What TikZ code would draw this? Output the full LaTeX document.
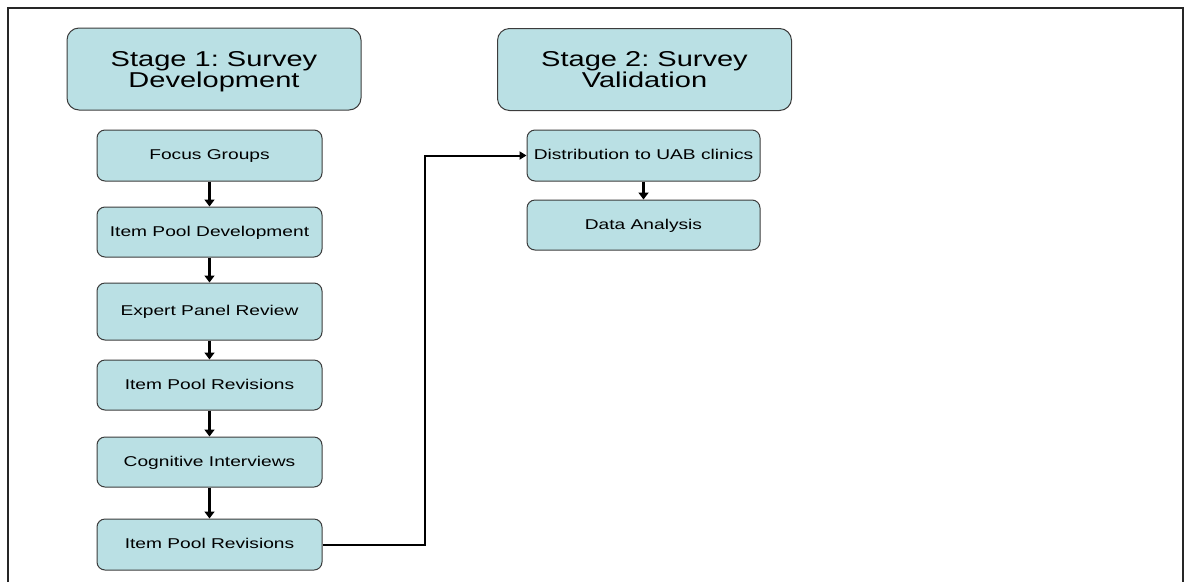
\documentclass[tikz,border=0pt]{standalone}
\usepackage{fontspec}
\setmainfont{Liberation Sans}[FakeStretch=1.35]
\usepackage{tikz}
\usetikzlibrary{arrows.meta}
\usetikzlibrary{positioning}

\definecolor{boxfill}{RGB}{186,224,228}
\definecolor{boxline}{RGB}{60,60,60}

\begin{document}
\frenchspacing
\begin{tikzpicture}[x=1pt, y=-1pt,
	stage_node/.style={rectangle, rounded corners=12pt, fill=boxfill, draw=boxline, line width=1pt, minimum width=294pt, minimum height=82pt, inner sep=0pt, align=center, text depth=0pt, font=\fontsize{21.5}{21}\selectfont},
	main_node/.style={rectangle, rounded corners=8pt, fill=boxfill, draw=boxline, line width=1pt, minimum width=225pt, minimum height=51pt, inner sep=0pt, text height=10pt, text depth=1.5pt, font=\fontsize{14.2}{16}\selectfont},
	flow/.style={line width=2.4pt, -{Triangle[length=7pt,width=10pt]}}]

				\useasboundingbox (0,0) rectangle (1185,582);
				\draw[black!85, line width=1.6pt] (8,582) |- (1183,8) -- (1183,582);

				\node[stage_node] (s1) at (214, 69) {Stage 1: Survey\\Development};
				\node[stage_node] (s2) at (644.5, 69.5) {Stage 2: Survey\\Validation};

				\node[main_node] (1) at (209.5, 155.5) {Focus Groups};
				\node[main_node, minimum height=50pt] (2) at (209.5, 232) {Item Pool Development};
				\node[main_node, minimum height=57pt] (3) at (209.5, 311.5) {Expert Panel Review};
				\node[main_node, minimum height=50pt] (4) at (209.5, 385) {Item Pool Revisions};
				\node[main_node, minimum height=50pt] (5) at (209.5, 462) {Cognitive Interviews};
				\node[main_node] (6) at (209.5, 544.5) {Item Pool Revisions};

				\node[main_node, minimum width=233pt] (7) at (643.5, 155.5) {Distribution to UAB clinics};
				\node[main_node, minimum width=233pt, minimum height=50pt] (8) at (643.5, 225) {Data Analysis};

				\path[every edge/.style={draw, flow}]
				(1) edge (2)
				(2) edge (3)
				(3) edge (4)
				(4) edge (5)
				(5) edge (6)
				(7) edge (8);
				\draw[line width=2pt, -{Triangle[length=7pt,width=8pt]}] (6.east) -- ++(102,0) |- (7.west);
			\end{tikzpicture}
\end{document}
